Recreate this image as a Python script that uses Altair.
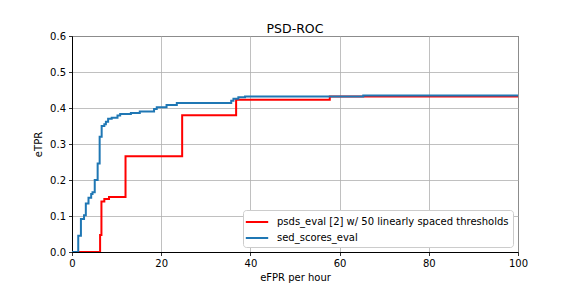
import altair as alt
import pandas as pd

red_label = "psds_eval [2] w/ 50 linearly spaced thresholds"
blue_label = "sed_scores_eval"

red_x = [0, 6.3, 6.6, 7.25, 8.3, 12.0, 24.7, 36.8, 57.8, 100]
red_y = [0, 0.047, 0.14, 0.147, 0.153, 0.266, 0.38, 0.423, 0.432, 0.432]

blue_x = [0, 1.4, 2.0, 2.7, 3.1, 3.7, 4.3, 4.6, 5.1, 5.75, 6.2, 6.65, 7.25, 7.6, 8.1,
          8.9, 10.2, 10.8, 13.2, 15.2, 18.4, 19.0, 21.2, 23.5, 35.7, 36.2, 37.3, 38.8, 65.3, 100]
blue_y = [0, 0.045, 0.092, 0.102, 0.135, 0.151, 0.161, 0.166, 0.2, 0.246, 0.32, 0.35, 0.355,
          0.362, 0.37, 0.373, 0.379, 0.383, 0.386, 0.39, 0.397, 0.402, 0.408, 0.414, 0.42,
          0.426, 0.43, 0.432, 0.435, 0.435]

red_df = pd.DataFrame({"x": red_x, "y": red_y, "series": red_label})
blue_df = pd.DataFrame({"x": blue_x, "y": blue_y, "series": blue_label})

color = alt.Color(
    "series:N",
    scale=alt.Scale(domain=[red_label, blue_label], range=["#ff0000", "#1f77b4"]),
    legend=alt.Legend(
        title=None,
        orient="bottom-right",
        offset=5,
        padding=4,
        fillColor="white",
        strokeColor="#cccccc",
        cornerRadius=3,
        symbolType="M-1.6,0H1.6",
        symbolStrokeWidth=2,
        symbolSize=196,
        symbolOffset=2,
        labelOffset=12,
        labelLimit=400,
        labelFontSize=10,
        labelFont="DejaVu Sans",
        labelColor="black",
        rowPadding=3,
    ),
)

x = alt.X(
    "x:Q",
    title="eFPR per hour",
    scale=alt.Scale(domain=[0, 100], nice=False),
    axis=alt.Axis(values=[0, 20, 40, 60, 80, 100], labelFlush=False),
)
y = alt.Y(
    "y:Q",
    title="eTPR",
    scale=alt.Scale(domain=[0, 0.6], nice=False),
    axis=alt.Axis(values=[0, 0.1, 0.2, 0.3, 0.4, 0.5, 0.6], format=".1f", labelFlush=False),
)

red = alt.Chart(red_df).mark_line(interpolate="step-after", strokeWidth=2, clip=True).encode(
    x=x, y=y, color=color
)
blue = alt.Chart(blue_df).mark_line(interpolate="step-after", strokeWidth=2, clip=True).encode(
    x=x, y=y, color=color
)

chart = (
    alt.layer(red, blue)
    .properties(
        width=446,
        height=216,
        title=alt.Title("PSD-ROC", fontSize=12.5, fontWeight="normal", font="DejaVu Sans",
                        color="black", offset=0, dy=4),
        autosize=alt.AutoSizeParams(type="none"),
        padding={"left": 72, "top": 36, "right": 58, "bottom": 36},
    )
    .configure_view(stroke="black", strokeWidth=1)
    .configure_axis(
        grid=True,
        gridColor="#b0b0b0",
        gridWidth=0.8,
        domainColor="black",
        domainWidth=1,
        tickColor="black",
        tickSize=3.5,
        tickWidth=0.8,
        labelFont="DejaVu Sans",
        labelFontSize=10,
        labelColor="black",
        titleFont="DejaVu Sans",
        titleFontSize=10,
        titleFontWeight="normal",
        titleColor="black",
        labelPadding=3,
    )
    .configure_axisX(titlePadding=4)
    .configure_axisY(titlePadding=6)
)

chart.save("out.html", embed_options={"renderer": "svg", "actions": False})
